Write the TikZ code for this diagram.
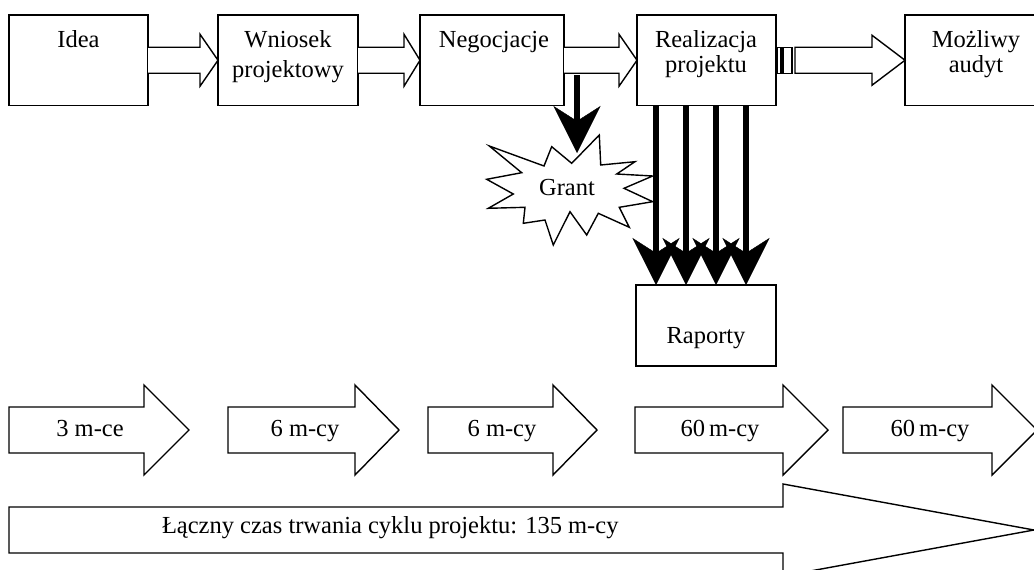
\documentclass[tikz,border=0pt]{standalone}
\usepackage{fontspec}
\setmainfont{Liberation Serif}
\usetikzlibrary{arrows.meta,calc}
\begin{document}
\begin{tikzpicture}[x=1pt,y=-1pt,
  box/.style={draw, line width=1.4pt, inner sep=0pt, outer sep=0pt, fill=white},
  hol/.style={draw, line width=1.4pt, fill=white, line join=miter},
  bar/.style={draw, line width=1.4pt, line join=miter},
  txt/.style={inner sep=0pt, outer sep=0pt, font=\fontsize{24.5}{27}\selectfont, align=center},
  blk/.style={line width=6.5pt, -{Stealth[length=47pt, width=47pt, inset=15pt, line width=0.4pt]}}]
\useasboundingbox (0,0) rectangle (1034,570);
\clip (0,0) rectangle (1034,570);

% top boxes
\node[box, minimum width=139pt, minimum height=90.5pt] (idea) at (78.5,60.25) {};
\node[box, minimum width=140pt, minimum height=90.5pt] (wn) at (288,60.25) {};
\node[box, minimum width=144pt, minimum height=90.5pt] (neg) at (492,60.25) {};
\node[box, minimum width=139pt, minimum height=90.5pt] (real) at (706.5,60.25) {};
\node[box, minimum width=142pt, minimum height=90.5pt] (aud) at (976,60.25) {};
\node[box, minimum width=140pt, minimum height=81pt] (rap) at (706,325.5) {};

% labels
\node[txt, anchor=base] (ideat) at (78.5,47) {Idea};
\node[txt, anchor=north] (wnt) at (288,30.5) {Wniosek\\[3pt]projektowy};
\node[txt, anchor=base] (negt) at (494,47) {Negocjacje};
\node[txt, anchor=north] (realt) at (706,30.5) {Realizacja\\[-2pt]projektu};
\node[txt, anchor=north] (audt) at (976,30.5) {Możliwy\\[-2pt]audyt};
\node[txt, anchor=base] (rapt) at (706,343) {Raporty};

% hollow arrows between boxes
\draw[hol] ($(idea.east)+(0,-13)$) -- ($(wn.west)+(-18,-13)$) -- ($(wn.west)+(-18,-26)$) -- (wn.west)
  -- ($(wn.west)+(-18,26)$) -- ($(wn.west)+(-18,13)$) -- ($(idea.east)+(0,13)$);
\draw[hol] ($(wn.east)+(0,-13)$) -- ($(neg.west)+(-16,-13)$) -- ($(neg.west)+(-16,-26)$) -- (neg.west)
  -- ($(neg.west)+(-16,26)$) -- ($(neg.west)+(-16,13)$) -- ($(wn.east)+(0,13)$);
\draw[hol] ($(neg.east)+(0,-13)$) -- ($(real.west)+(-18,-13)$) -- ($(real.west)+(-18,-26)$) -- (real.west)
  -- ($(real.west)+(-18,26)$) -- ($(real.west)+(-18,13)$) -- ($(neg.east)+(0,13)$);
% striped arrow
\draw[hol] ($(real.east)+(1,-13)$) rectangle ($(real.east)+(5,13)$);
\draw[hol] ($(real.east)+(7,-13)$) rectangle ($(real.east)+(16,13)$);
\draw[hol] ($(real.east)+(19,-13)$) -- ($(aud.west)+(-33,-13)$) -- ($(aud.west)+(-33,-25)$) -- (aud.west)
  -- ($(aud.west)+(-33,25)$) -- ($(aud.west)+(-33,13)$) -- ($(real.east)+(19,13)$) -- cycle;

% Grant starburst
\draw[hol] (489.3,146) -- (544,166) -- (551.7,146.7) -- (571.7,163.3) -- (599.3,135) -- (600.7,165)
  -- (635,161.7) -- (616.7,174) -- (652.7,176) -- (624,188.3) -- (652.7,201.7) -- (619.3,207.3)
  -- (629.3,227.3) -- (598.3,213.3) -- (586.7,235) -- (570,211.7) -- (553.3,245) -- (545,220)
  -- (523.3,223.3) -- (525,207.3) -- (488.3,208.3) -- (513.3,194) -- (486.7,179.3) -- (521.7,172.7) -- cycle;
\node[txt, anchor=base] (grant) at (567,195) {Grant};

% black arrows
\coordinate (gs) at (577,75);
\coordinate (ge) at (577,153);
\draw[blk] (gs) -- (ge);
\foreach \i/\xx in {1/656,2/686,3/716,4/746}{
  \coordinate (r\i) at (\xx,0);
  \draw[blk] (r\i |- real.south) -- (r\i |- rap.north);
}

% bottom duration arrows
\draw[bar] (9,407) -- (144,407) -- (144,385) -- (189,430) -- (144,475) -- (144,453) -- (9,453) -- cycle;
\draw[bar] (228,407) -- (355,407) -- (355,385) -- (399,430) -- (355,475) -- (355,453) -- (228,453) -- cycle;
\draw[bar] (428,407) -- (553,407) -- (553,385) -- (597,430) -- (553,475) -- (553,453) -- (428,453) -- cycle;
\draw[bar] (635,407) -- (783,407) -- (783,385) -- (828,430) -- (783,475) -- (783,453) -- (635,453) -- cycle;
\draw[bar] (843,407) -- (992,407) -- (992,385) -- (1037,430) -- (992,475) -- (992,453) -- (843,453) -- cycle;
\node[txt, anchor=base] (d1) at (90,436) {3 m-ce};
\node[txt, anchor=base] (d2) at (305,436) {6 m-cy};
\node[txt, anchor=base] (d3) at (502,436) {6 m-cy};
\node[txt, anchor=base] (d4) at (720,436) {60\,m-cy};
\node[txt, anchor=base] (d5) at (930,436) {60\,m-cy};

% total arrow
\draw[bar] (9,507) -- (783,507) -- (783,484) -- (1034,530) -- (783,576) -- (783,553) -- (9,553) -- cycle;
\node[txt, anchor=base west] (tot) at (162,533) {Łączny czas trwania cyklu projektu: 135 m-cy};
\end{tikzpicture}
\end{document}
